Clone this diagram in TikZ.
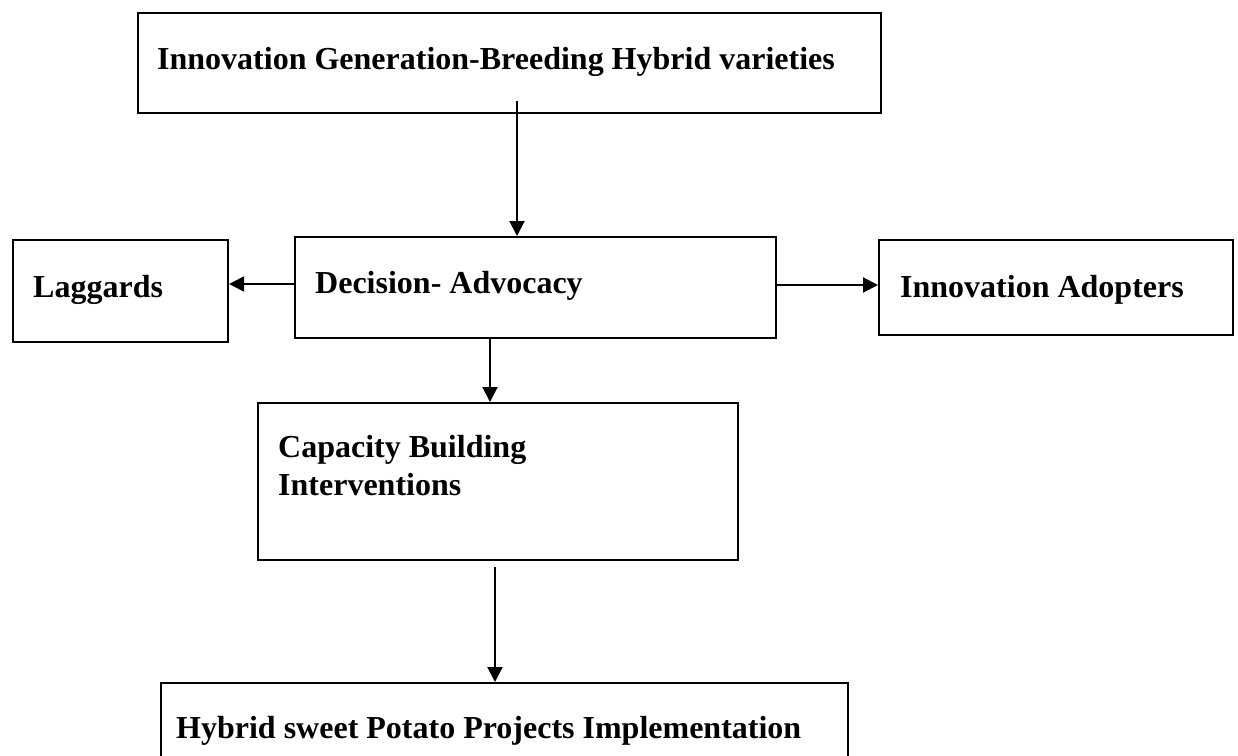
\documentclass[tikz,border=0pt]{standalone}
\usepackage{fontspec}
\setmainfont{Liberation Serif}
\usetikzlibrary{arrows.meta}
\begin{document}
\begin{tikzpicture}[x=1pt,y=-1pt,
  box/.style={draw=black,line width=2.1pt,rectangle,anchor=north west,inner sep=0pt},
  lbl/.style={anchor=base west,inner sep=0pt,font=\fontsize{32}{38}\selectfont\bfseries},
  arr/.style={line width=2.1pt,-{Triangle[length=15pt,width=15pt]}}]
\useasboundingbox (0,0) rectangle (1238,755);
\clip (0,0) rectangle (1238,755);
\fill[white] (0,0) rectangle (1238,755);
% boxes
\node[box,minimum width=743pt,minimum height=100pt] (gen) at (137,12) {};
\node[box,minimum width=215pt,minimum height=102pt] (lag) at (12,239) {};
\node[box,minimum width=481pt,minimum height=101pt] (dec) at (294,236) {};
\node[box,minimum width=354pt,minimum height=95pt] (adp) at (878,239) {};
\node[box,minimum width=480pt,minimum height=157pt] (cap) at (257,402) {};
\node[box,minimum width=687pt,minimum height=100pt] (hyb) at (160,682) {};
% texts
\node[lbl] (tgen) at (157,69) {Innovation Generation-Breeding Hybrid varieties};
\node[lbl] (tlag) at (33,297) {Laggards};
\node[lbl] (tdec) at (315,293) {Decision- Advocacy};
\node[lbl] (tadp) at (900,297) {Innovation Adopters};
\node[lbl] (tcap1) at (278,457) {Capacity Building};
\node[lbl] (tcap2) at (278,495) {Interventions};
\node[lbl] (thyb) at (176,738) {Hybrid sweet Potato Projects Implementation};
% connectors
\coordinate (a1) at (517,101);
\draw[arr] (a1) -- (a1 |- dec.north);
\coordinate (l1) at (294,284);
\draw[arr] (l1) -- (l1 -| lag.east);
\coordinate (r1) at (775,285);
\draw[arr] (r1) -- (r1 -| adp.west);
\coordinate (d1) at (490,337);
\draw[arr] (d1) -- (d1 |- cap.north);
\coordinate (c1) at (495,567);
\draw[arr] (c1) -- (c1 |- hyb.north);
\end{tikzpicture}
\end{document}
